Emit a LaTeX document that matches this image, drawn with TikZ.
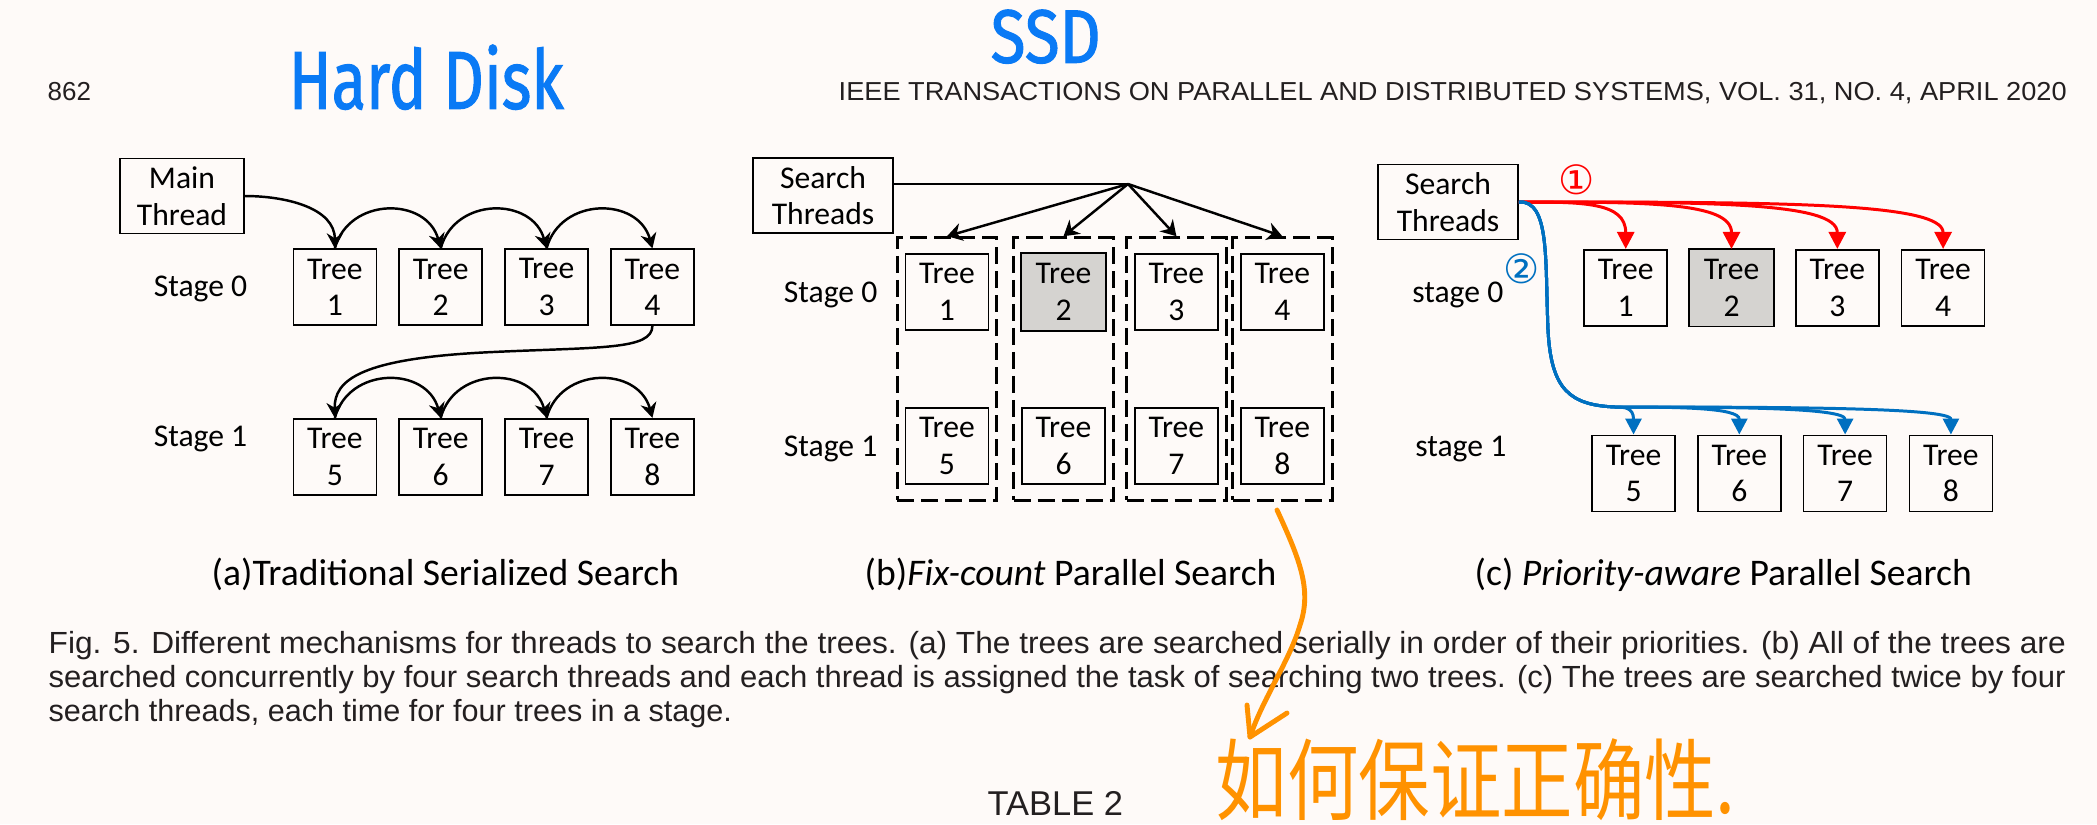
\documentclass[tikz,border=0pt]{standalone}
\usepackage{fontspec}
\usepackage{graphicx}
\setmainfont{Carlito}
\newfontfamily\capfont{Liberation Sans}
\newfontfamily\cjkfont{Noto Sans CJK SC}
\newfontfamily\symfont{DejaVu Sans}
\newfontfamily\handfont{Fira Sans}[FakeBold=1.5]
\usetikzlibrary{arrows.meta,fit,calc}
\definecolor{pagebg}{RGB}{254,250,248}
\definecolor{captxt}{RGB}{35,31,32}
\definecolor{hiliteg}{RGB}{213,211,208}
\definecolor{offred}{RGB}{255,0,0}
\definecolor{offblue}{RGB}{0,112,192}
\definecolor{inkblue}{RGB}{10,122,245}
\definecolor{inkorange}{RGB}{255,146,0}
\tikzset{
	treebox/.style={draw, line width=0.45pt, minimum width=8.3mm, minimum height=7.6mm, inner sep=0pt, align=center, font=\fontsize{9}{10.4}\selectfont},
	threadbox/.style={treebox, minimum width=12.4mm, minimum height=7.5mm},
	stagelbl/.style={anchor=base, inner sep=0pt, font=\fontsize{9}{10.4}\selectfont},
	sublbl/.style={anchor=base west, inner sep=0pt, font=\fontsize{10.7}{12}\selectfont},
	captext/.style={anchor=base west, inner sep=0pt, text=captxt, font=\capfont\fontsize{8.7}{10}\selectfont},
	serial/.style={-{Stealth[length=1.5mm,width=1.6mm]}, line width=0.7pt},
	fanarr/.style={-{Stealth[length=1.5mm,width=1.8mm]}, line width=0.7pt},
	threadgroup/.style={draw, line width=0.85pt, dash pattern=on 1.7mm off 0.7mm, inner xsep=0.75mm, inner ysep=1.55mm},
	redarr/.style={draw=offred, line width=0.85pt, -{Triangle[length=1.7mm,width=1.7mm]}},
	bluearr/.style={draw=offblue, line width=0.85pt, -{Triangle[length=1.6mm,width=1.6mm]}},
	inkline/.style={draw=inkorange, line width=1.4pt, line cap=round, line join=round}
}
\begin{document}
\begin{tikzpicture}[x=0.1mm,y=-0.1mm]
	\fill[pagebg] (0,0) rectangle (2097,824);
	\useasboundingbox (0,0) rectangle (2097,824);
	\node (pgnum) [captext, font=\capfont\fontsize{7.4}{9}\selectfont] at (47,100) {862};
	\node (runhead) [captext, font=\capfont\fontsize{7.4}{9}\selectfont] at (838,100) {\resizebox{122.8mm}{\height}{IEEE TRANSACTIONS ON PARALLEL AND DISTRIBUTED SYSTEMS, VOL. 31, NO. 4, APRIL 2020}};
	\node (hdd) [anchor=north west, inner sep=0pt, text=inkblue] at (288,44) {\resizebox{27.5mm}{6.4mm}{\handfont Hard Disk}};
	\node (ssd) [anchor=north west, inner sep=0pt, text=inkblue] at (990,9) {\resizebox{11mm}{5.3mm}{\handfont SSD}};
	\node (aMain) [threadbox] at (182,196) {Main\\Thread};
	\foreach \n in {1,...,4} {
		\node (a\n) [treebox] at (229+105.85*\n, 287.2) {Tree\\\n};
	}
	\foreach \n\k in {5/1,6/2,7/3,8/4} {
		\node (a\n) [treebox] at (229+105.85*\k, 456.7) {Tree\\\n};
	}
	\node (aStage0) [stagelbl] at (200.5,296.7) {Stage 0};
	\node (aStage1) [stagelbl] at (200.5,446) {Stage 1};
	\draw[serial] (aMain.east) to[out=0,in=90] (a1.north);
	\foreach \n\m in {1/2,2/3,3/4,5/6,6/7,7/8} {
		\draw[serial] (a\n.north) to[out=75,in=105,looseness=1.3] (a\m.north);
	}
	\coordinate (aBend) at (493,352);
	\draw[serial] (a4.south) .. controls (652,350) and (600,347) .. (aBend) .. controls (360,358) and (334,380) .. (a5.north);
	\node (bSearch) [threadbox, minimum width=14mm] at (823,195.5) {Search\\Threads};
	\foreach \n\m\x in {1/5/947,2/6/1063.5,3/7/1176.4,4/8/1282.3} {
		\node (b\n) [treebox] at (\x,292) {Tree\\\n};
		\node (b\m) [treebox] at (\x,446) {Tree\\\m};
		\node (bg\n) [threadgroup, fit=(b\n)(b\m)] {};
	}
	\fill[hiliteg, draw=black, line width=0.45pt] (b2.north west) rectangle (b2.south east);
	\node [treebox, draw=none] at (b2) {Tree\\2};
	\node (bStage0) [stagelbl] at (830.6,302.7) {Stage 0};
	\node (bStage1) [stagelbl] at (830.6,456.7) {Stage 1};
	\coordinate (bFan) at (1128,184);
	\draw[line width=0.7pt] (bSearch.east |- bFan) -- (bFan);
	\foreach \n in {1,...,4} {
		\draw[fanarr] (bFan) -- (bg\n.north);
	}
	\node (cSearch) [threadbox, minimum width=14mm] at (1448,202) {Search\\Threads};
	\foreach \n in {1,...,4} {
		\node (c\n) [treebox] at (1519.9+105.8*\n, 287.7) {Tree\\\n};
	}
	\foreach \n\k in {5/1,6/2,7/3,8/4} {
		\node (c\n) [treebox] at (1527.7+105.8*\k, 473.3) {Tree\\\n};
	}
	\fill[hiliteg, draw=black, line width=0.45pt] (c2.north west) rectangle (c2.south east);
	\node [treebox, draw=none] at (c2) {Tree\\2};
	\node (cStage0) [stagelbl] at (1457.8,302.3) {stage 0};
	\node (cStage1) [stagelbl] at (1460.8,456.7) {stage 1};
	\node (cOne) [inner sep=0pt, text=offred, font=\symfont\fontsize{11.5}{12}\selectfont] at (1577,180) {①};
	\node (cTwo) [inner sep=0pt, text=offblue, font=\symfont\fontsize{11.5}{12}\selectfont] at (1522,269) {②};
	\foreach \n in {1,...,4} {
		\draw[redarr] (cSearch.east) .. controls ($(cSearch.east)!0.6!(c\n.north |- cSearch.east)$) and (c\n.north |- cSearch.east) .. (c\n.north);
	}
	\coordinate (cDrop) at (1548,330);
	\coordinate (cTurn) at (1615,407);
	\foreach \n in {5,...,8} {
		\draw[bluearr] (cSearch.east) .. controls (1550,200) and (1545,260) .. (cDrop) .. controls (1551,390) and (1570,405) .. (cTurn) .. controls ($(cTurn)!0.5!(c\n.north |- cTurn)$) and ($(c\n.north)+(0,-27)$) .. (c\n.north);
	}
	\node (aCap) [sublbl] at (211,585) {(a)Traditional Serialized Search};
	\node (bCap) [sublbl] at (864,585) {(b)\textit{Fix-count} Parallel Search};
	\node (cCap) [sublbl] at (1474,585) {(c) \textit{Priority-aware} Parallel Search};
	\node (capA) [captext] at (48,653) {\resizebox{201.7mm}{\height}{Fig. 5. Different mechanisms for threads to search the trees. (a) The trees are searched serially in order of their priorities. (b) All of the trees are}};
	\node (capB) [captext] at (48,687) {\resizebox{201.7mm}{\height}{searched concurrently by four search threads and each thread is assigned the task of searching two trees. (c) The trees are searched twice by four}};
	\node (capC) [captext] at (48,721) {search threads, each time for four trees in a stage.};
	\node (tabhead) [captext, font=\capfont\fontsize{9.8}{11}\selectfont] at (987,815) {TABLE 2};
	\coordinate (inkStart) at (1277,510);
	\coordinate (inkTip) at (1250,737);
	\draw[inkline] (inkStart) .. controls (1300,560) and (1312,590) .. (1300,625) .. controls (1290,660) and (1262,700) .. (inkTip);
	\draw[inkline] (1247,705) -- (inkTip) -- (1287,713);
	\node (zhnote) [anchor=north west, inner sep=0pt, text=inkorange] at (1215,738) {\resizebox*{52mm}{8.2mm}{\cjkfont 如何保证正确性.}};
\end{tikzpicture}
\end{document}
